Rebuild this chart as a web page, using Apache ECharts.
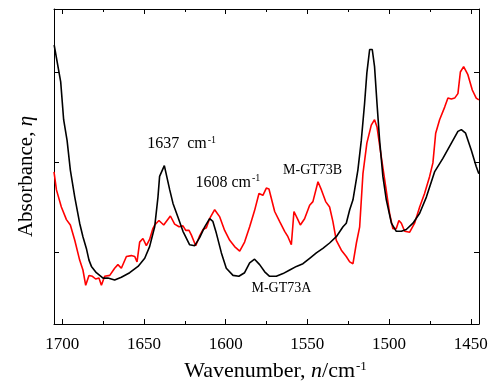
<!DOCTYPE html>
<html>
<head>
<meta charset="utf-8">
<script src="https://cdn.jsdelivr.net/npm/echarts@6/dist/echarts.min.js"></script>
<style>
  html, body { margin: 0; padding: 0; background: #fff; }
  #chart { width: 501px; height: 381px; }
</style>
</head>
<body>
<div id="chart"></div>
<script>
// M-GT73A (black)
var wnA = [1704.9, 1700.9, 1699.1, 1697.0, 1695.0, 1692.3, 1689.3, 1687.3, 1685.2, 1683.6,
           1682.1, 1679.1, 1675.0, 1672.0, 1667.9, 1663.8, 1658.7, 1653.6, 1649.5, 1646.5,
           1643.4, 1641.4, 1640.4, 1637.5, 1634.2, 1632.2, 1629.2, 1626.1, 1622.0, 1618.9,
           1615.9, 1612.8, 1609.8, 1607.8, 1605.7, 1602.6, 1599.6, 1595.5, 1591.9, 1588.4,
           1585.3, 1582.3, 1579.2, 1576.1, 1573.1, 1569.0, 1564.9, 1560.8, 1556.7, 1552.7,
           1548.6, 1544.5, 1540.5, 1536.4, 1532.3, 1528.2, 1526.2, 1524.1, 1522.1, 1519.1,
           1517.0, 1515.0, 1513.6, 1511.9, 1510.3, 1508.9, 1507.4, 1505.8, 1503.8, 1501.7,
           1498.6, 1495.6, 1492.5, 1489.5, 1485.4, 1481.3, 1477.2, 1472.2, 1467.1, 1461.9,
           1457.9, 1455.8, 1453.2, 1449.7, 1446.7, 1445.1];
var absA = [3.30, 2.89, 2.47, 2.24, 1.91, 1.61, 1.32, 1.17, 1.04, 0.91,
            0.84, 0.77, 0.71, 0.71, 0.69, 0.72, 0.77, 0.84, 0.93, 1.06,
            1.28, 1.61, 1.84, 1.96, 1.69, 1.54, 1.39, 1.23, 1.08, 1.07,
            1.16, 1.28, 1.37, 1.34, 1.21, 0.99, 0.82, 0.74, 0.73, 0.77,
            0.88, 0.92, 0.86, 0.78, 0.73, 0.73, 0.76, 0.80, 0.84, 0.87,
            0.93, 0.99, 1.04, 1.10, 1.17, 1.28, 1.32, 1.47, 1.58, 1.91,
            2.24, 2.65, 2.99, 3.25, 3.25, 3.06, 2.65, 2.24, 1.84, 1.58,
            1.32, 1.23, 1.23, 1.25, 1.32, 1.43, 1.61, 1.89, 2.04, 2.21,
            2.34, 2.36, 2.32, 2.13, 1.95, 1.87];

// M-GT73B (red)
var wnB = [1705.0, 1703.5, 1700.5, 1697.4, 1695.0, 1692.3, 1689.3, 1687.3, 1685.6, 1683.6,
           1681.5, 1679.5, 1677.5, 1676.0, 1674.0, 1670.9, 1667.9, 1665.9, 1663.8, 1660.7,
           1657.7, 1655.6, 1654.2, 1652.6, 1650.6, 1648.5, 1646.5, 1644.5, 1643.4, 1640.8,
           1637.9, 1633.8, 1631.2, 1628.5, 1626.1, 1624.4, 1622.4, 1621.0, 1618.3, 1615.9,
           1613.9, 1611.8, 1609.8, 1606.7, 1603.6, 1600.6, 1597.5, 1594.5, 1591.4, 1588.4,
           1585.3, 1582.3, 1579.6, 1577.2, 1575.1, 1573.5, 1570.0, 1567.0, 1563.9, 1561.9,
           1559.8, 1558.2, 1555.8, 1554.3, 1551.7, 1548.6, 1546.6, 1543.5, 1541.4, 1538.8,
           1536.4, 1534.4, 1532.3, 1529.2, 1526.2, 1524.1, 1522.1, 1520.0, 1518.0, 1516.0,
           1513.6, 1510.9, 1508.9, 1507.4, 1504.8, 1502.1, 1499.7, 1497.7, 1495.6, 1494.0,
           1492.5, 1490.5, 1487.4, 1484.4, 1481.3, 1478.3, 1475.2, 1473.2, 1471.5, 1469.1,
           1466.0, 1464.0, 1461.9, 1459.9, 1457.9, 1456.4, 1454.4, 1451.8, 1449.1, 1446.7,
           1445.1];
var absB = [1.89, 1.69, 1.50, 1.36, 1.30, 1.13, 0.91, 0.80, 0.63, 0.74,
            0.73, 0.70, 0.71, 0.63, 0.73, 0.74, 0.82, 0.86, 0.82, 0.95,
            0.96, 0.95, 0.89, 1.11, 1.15, 1.07, 1.14, 1.26, 1.30, 1.35,
            1.30, 1.40, 1.31, 1.28, 1.29, 1.24, 1.24, 1.19, 1.07, 1.18,
            1.25, 1.27, 1.37, 1.47, 1.39, 1.24, 1.13, 1.06, 1.01, 1.11,
            1.28, 1.46, 1.65, 1.63, 1.71, 1.70, 1.45, 1.34, 1.23, 1.17,
            1.08, 1.45, 1.36, 1.30, 1.37, 1.52, 1.56, 1.78, 1.69, 1.56,
            1.50, 1.34, 1.13, 1.02, 0.95, 0.89, 0.87, 1.10, 1.28, 1.87,
            2.21, 2.41, 2.47, 2.39, 2.06, 1.73, 1.43, 1.26, 1.26, 1.35,
            1.32, 1.23, 1.22, 1.32, 1.50, 1.65, 1.84, 1.99, 2.32, 2.47,
            2.61, 2.71, 2.70, 2.71, 2.76, 3.00, 3.06, 2.97, 2.80, 2.71,
            2.69];

var majorTicks = [1700, 1650, 1600, 1550, 1500, 1450];
var minorTicks = [1675, 1625, 1575, 1525, 1475];
var yTicks = [1, 2, 3];

// annotation texts, anchored at [wavenumber, absorbance]
var notes = [
  { text: '{big|1637  cm}{sup|-1}', at: [1626.9, 2.20] },
  { text: '{big|1608 cm}{sup|-1}', at: [1598.6, 1.77] },
  { text: 'M-GT73B', at: [1546.8, 1.91] },
  { text: 'M-GT73A', at: [1565.9, 0.60] }
];

function zip(xs, ys) {
  var out = [];
  for (var i = 0; i < xs.length; i++) out.push([xs[i], ys[i]]);
  return out;
}

var FONT = '"Liberation Serif", "Times New Roman", serif';
var X_MIN = 1445, X_MAX = 1705, Y_MIN = 0.2, Y_MAX = 3.7;

function xAx(pos, ticks, len, opts) {
  return Object.assign({
    type: 'value', position: pos, min: X_MIN, max: X_MAX, inverse: true,
    splitLine: { show: false },
    axisLine: { show: true, onZero: false, lineStyle: { color: '#000', width: 1 } },
    axisTick: { show: true, inside: true, length: len, customValues: ticks, lineStyle: { color: '#000', width: 1 } },
    axisLabel: { show: false }
  }, opts || {});
}
function yAx(pos, opts) {
  return Object.assign({
    type: 'value', position: pos, min: Y_MIN, max: Y_MAX,
    splitLine: { show: false },
    axisLine: { show: true, onZero: false, lineStyle: { color: '#000', width: 1 } },
    axisTick: { show: true, inside: true, length: 5, customValues: yTicks, lineStyle: { color: '#000', width: 1 } },
    axisLabel: { show: false }
  }, opts || {});
}

var chart = echarts.init(document.getElementById('chart'), null, { renderer: 'canvas' });

var option = {
  backgroundColor: '#fff',
  animation: false,
  grid: { left: 54, right: 22, top: 9, bottom: 57, containLabel: false, outerBoundsMode: 'none' },
  xAxis: [
    xAx('bottom', majorTicks, 5, {
      axisLabel: {
        show: true, customValues: majorTicks, margin: 12, color: '#000', fontFamily: FONT, fontSize: 17,
        formatter: function (v) { return String(v); }
      },
      name: 'Wavenumber, {it|n}/cm{sup|-1}',
      nameLocation: 'middle', nameGap: 36,
      nameTextStyle: {
        color: '#000', fontFamily: FONT, fontSize: 22, padding: [0, 0, 0, 18],
        rich: {
          it: { fontFamily: FONT, fontSize: 22, fontStyle: 'italic', color: '#000' },
          sup: { fontFamily: FONT, fontSize: 13, color: '#000', verticalAlign: 'top', padding: [0, 0, 10, 1] }
        }
      }
    }),
    xAx('bottom', minorTicks, 3, { axisLine: { show: false } }),
    xAx('top', majorTicks, 5),
    xAx('top', minorTicks, 3, { axisLine: { show: false } })
  ],
  yAxis: [
    yAx('left', {
      name: 'Absorbance, {it|η}',
      nameLocation: 'middle', nameGap: 17,
      nameTextStyle: {
        color: '#000', fontFamily: FONT, fontSize: 21, padding: [0, 20, 0, 0],
        rich: { it: { fontFamily: FONT, fontSize: 21, fontStyle: 'italic', color: '#000' } }
      }
    }),
    yAx('right')
  ],
  series: [
    {
      name: 'M-GT73A', type: 'line', xAxisIndex: 0, yAxisIndex: 0,
      data: zip(wnA, absA), showSymbol: false, symbol: 'none', smooth: false,
      lineStyle: { color: '#000', width: 1.6 }, z: 3,
      markPoint: {
        symbol: 'circle', symbolSize: 0, silent: true,
        label: {
          show: true, position: 'inside', color: '#000', fontFamily: FONT, fontSize: 14,
          formatter: function (p) { return p.name; },
          rich: {
            big: { fontFamily: FONT, fontSize: 16, color: '#000' },
            sup: { fontFamily: FONT, fontSize: 10, color: '#000', verticalAlign: 'top', padding: [0, 0, 8, 1] }
          }
        },
        data: notes.map(function (n) { return { name: n.text, coord: n.at }; })
      }
    },
    {
      name: 'M-GT73B', type: 'line', xAxisIndex: 0, yAxisIndex: 0,
      data: zip(wnB, absB), showSymbol: false, symbol: 'none', smooth: false,
      lineStyle: { color: '#ff0000', width: 1.6 }, z: 2
    }
  ]
};

chart.setOption(option);
</script>
</body>
</html>
